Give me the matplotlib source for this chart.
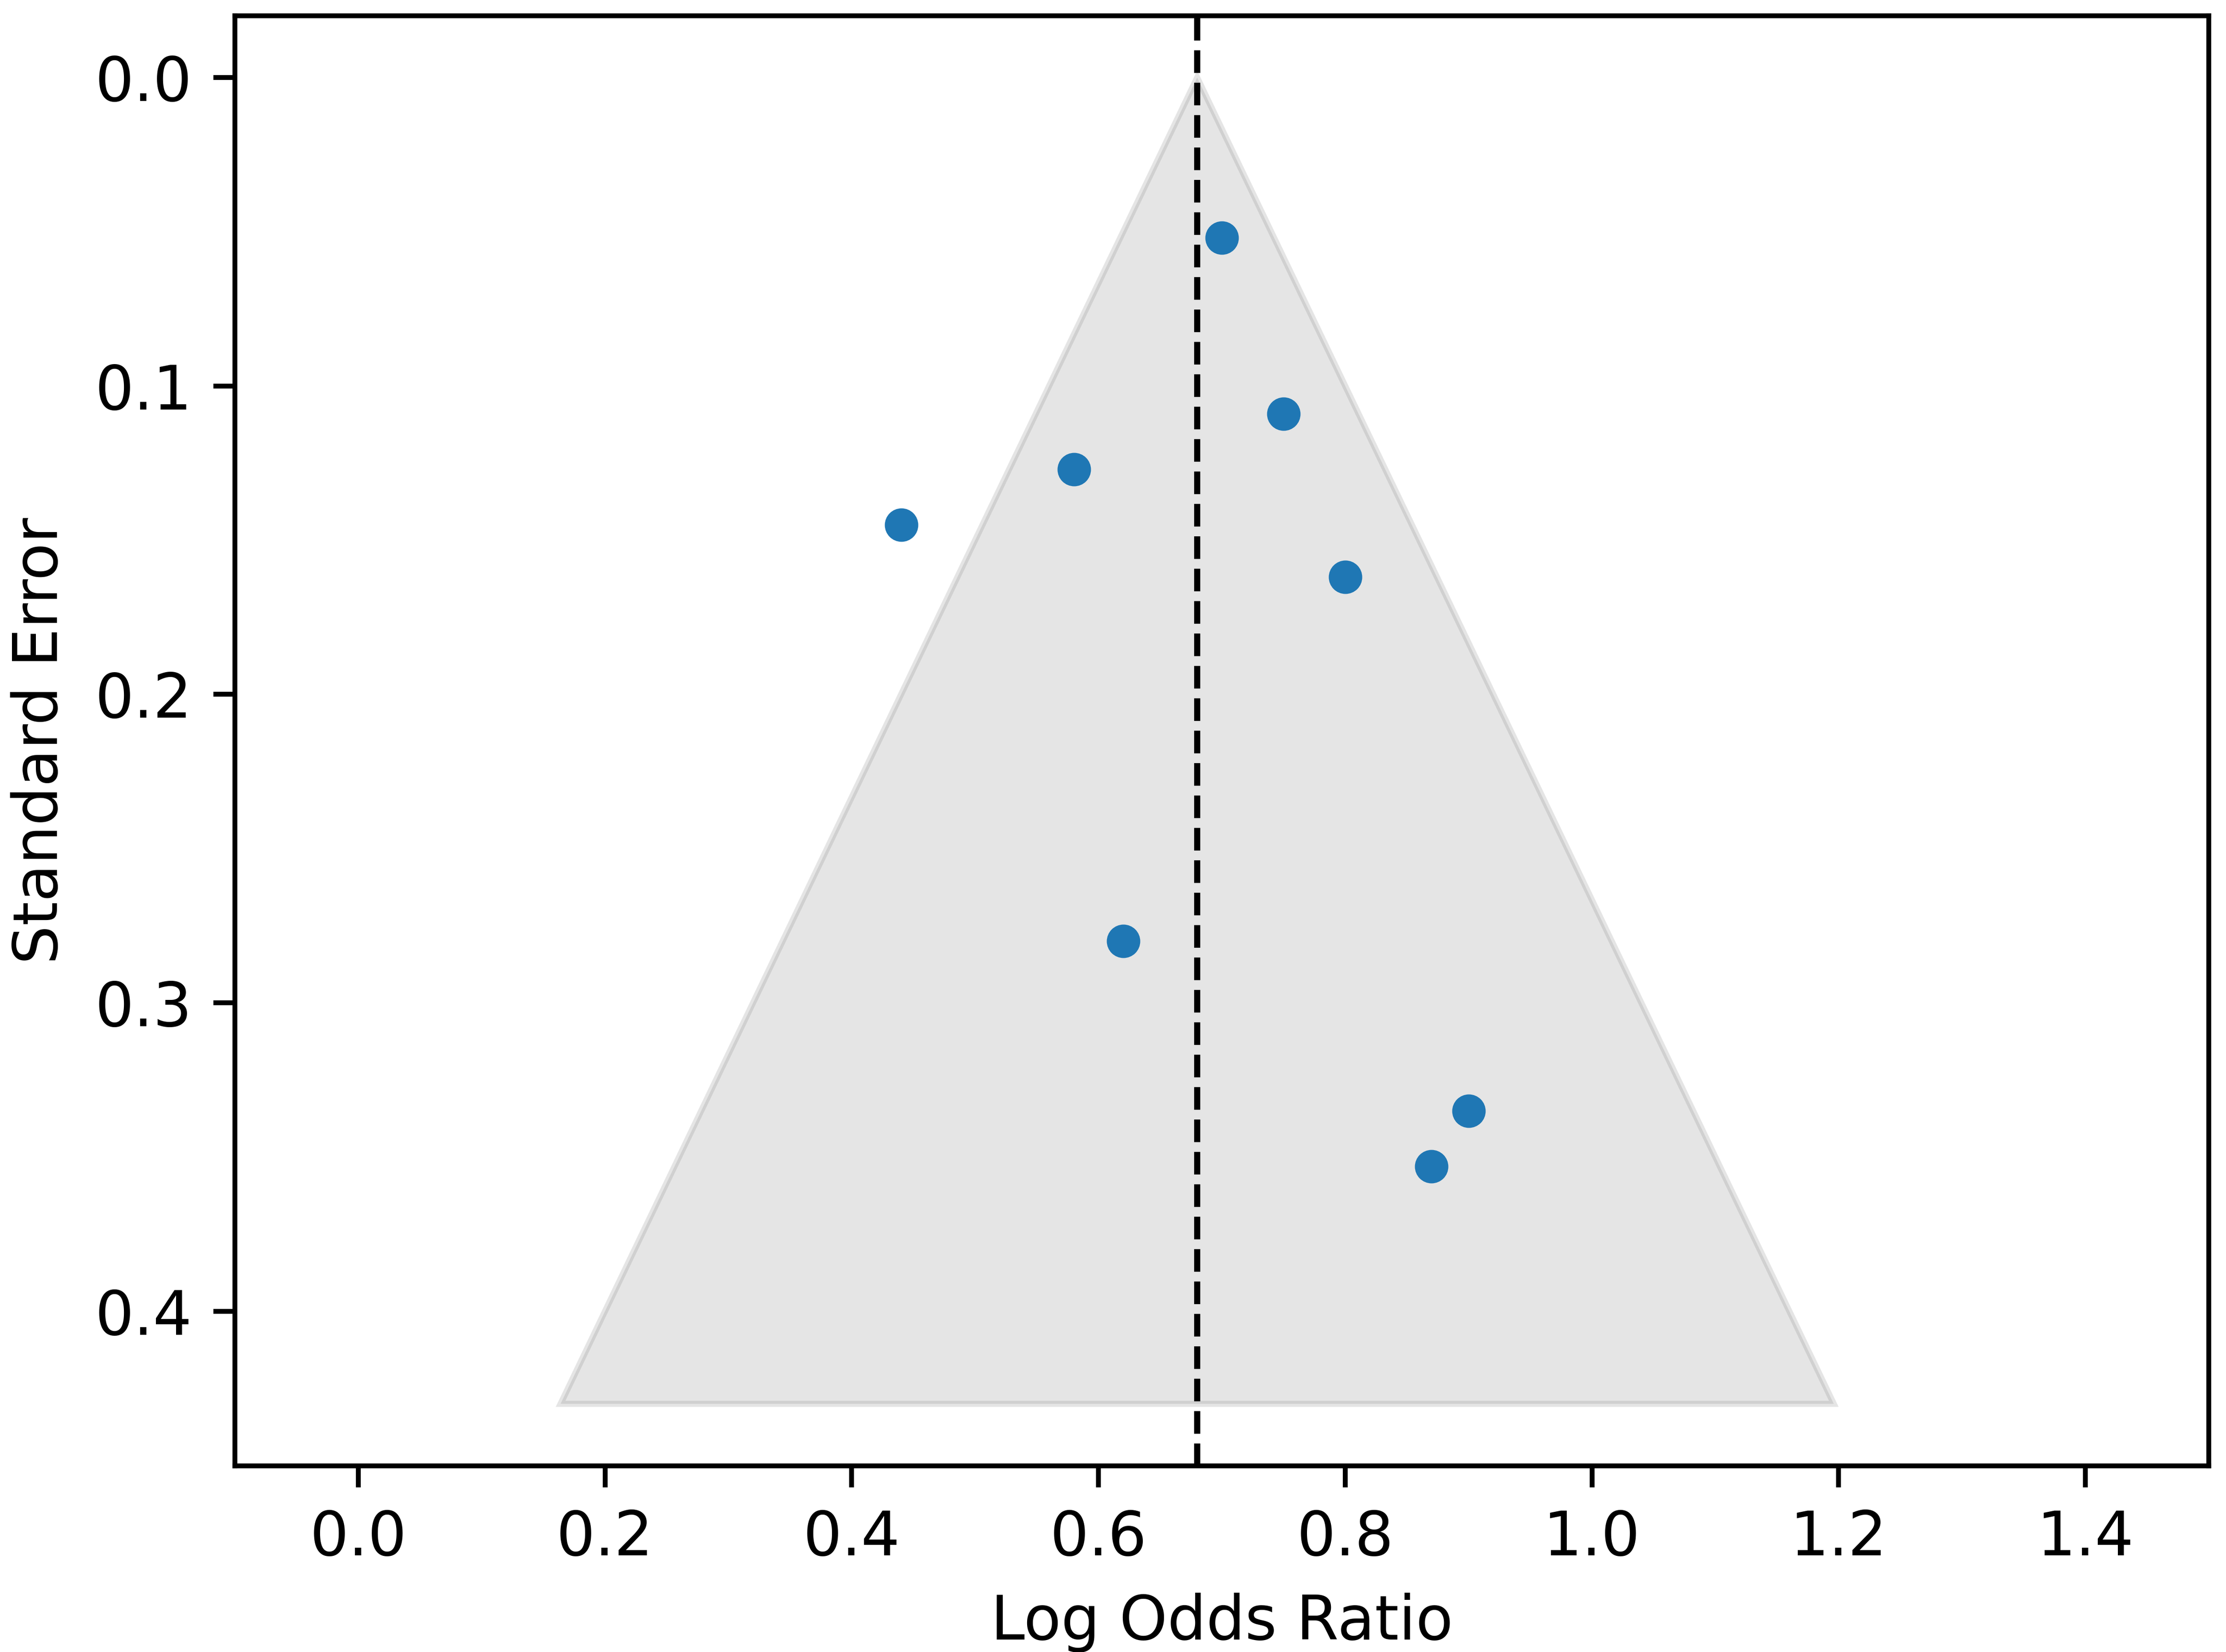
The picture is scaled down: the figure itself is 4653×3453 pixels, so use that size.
import numpy as np
import matplotlib
matplotlib.use("Agg")
import matplotlib.pyplot as plt

# study estimates
log_odds = [0.70, 0.75, 0.58, 0.44, 0.80, 0.62, 0.90, 0.87]
std_err = [0.052, 0.109, 0.127, 0.145, 0.162, 0.280, 0.335, 0.353]

pooled = 0.68
se_max = 0.43
funnel_k = 1.2

fig = plt.figure(figsize=(4653 / 920, 3453 / 920), dpi=920)
ax = fig.add_axes([0.1055, 0.1127, 0.9923 - 0.1055, 0.9904 - 0.1127])

# funnel region
fx = [pooled, pooled - funnel_k * se_max, pooled + funnel_k * se_max]
fy = [0, se_max, se_max]
ax.fill(fx, fy, color='gray', alpha=0.2)

ax.scatter(log_odds, std_err, s=20, color='#1f77b4', zorder=3)
ax.axvline(pooled, color='black', linestyle='--', linewidth=1)

ax.set_xlim(-0.1, 1.5)
ax.set_ylim(0.4501, -0.02)
ax.set_xlabel('Log Odds Ratio')
ax.set_ylabel('Standard Error')

fig.savefig('out.png', dpi=920)
